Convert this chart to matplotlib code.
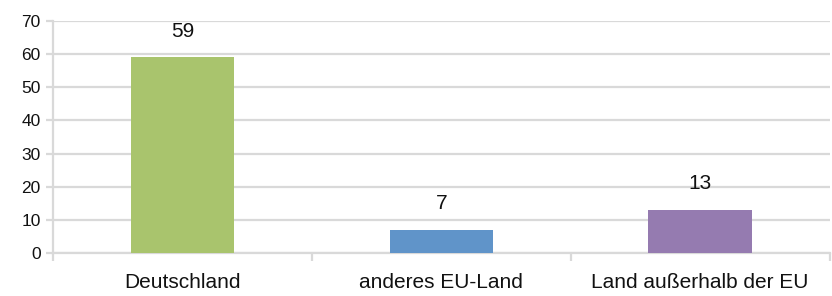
import matplotlib
matplotlib.use("Agg")
import matplotlib.pyplot as plt
import numpy as np

categories = ["Deutschland", "anderes EU-Land", "Land außerhalb der EU"]
values = [59, 7, 13]
colors = ["#a9c46d", "#6094c9", "#957bb0"]

plt.rcParams["font.family"] = ["Liberation Sans", "DejaVu Sans"]
grid_col = "#d9d9d9"

fig = plt.figure(figsize=(8.32, 2.96), dpi=100)
ax = fig.add_axes([0.064, 0.145, 0.933, 0.784])

x = np.arange(len(categories))
ax.bar(x, values, width=0.4, color=colors, zorder=3)
for xi, v in zip(x, values):
    ax.annotate(str(v), (xi, v), xytext=(0, 12), textcoords="offset points",
                ha="center", va="bottom", fontsize=15, color="#111111")

ax.set_xlim(-0.5, 2.5)
ax.set_ylim(0, 70)
ax.set_yticks(range(0, 71, 10))
ax.yaxis.grid(True, color=grid_col, lw=1.6, zorder=0)

ax.set_xticks(x)
ax.set_xticklabels(categories, fontsize=15)
ax.set_xticks([-0.5, 0.5, 1.5, 2.5], minor=True)
ax.tick_params(axis="x", which="major", length=0, pad=14, colors="#111111")
ax.tick_params(axis="x", which="minor", length=6, width=1.6, color=grid_col)
ax.tick_params(axis="y", length=5, width=1.6, color=grid_col, labelsize=12.5,
               labelcolor="#111111", pad=4)

for s in ["top", "right"]:
    ax.spines[s].set_visible(False)
for s in ["left", "bottom"]:
    ax.spines[s].set_color(grid_col)
    ax.spines[s].set_linewidth(1.6)

fig.savefig("out.png", dpi=100)
plt.close(fig)
